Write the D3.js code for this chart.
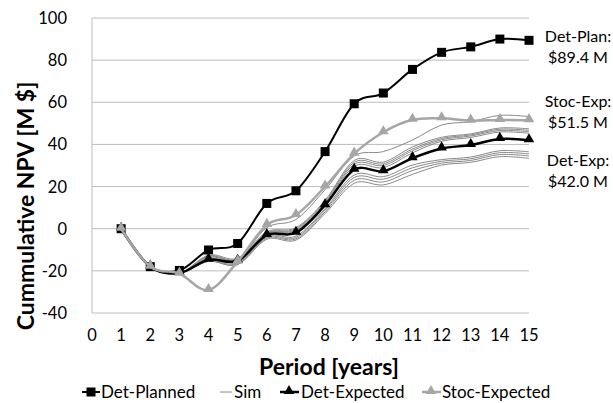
<html>
<head>
<script src="https://cdn.jsdelivr.net/npm/d3@7"></script>
<style>
  body { margin: 0; background: #fff; }
  text { font-family: Lato, "Open Sans", sans-serif; fill: #000; }
</style>
</head>
<body>
<svg id="vis"></svg>
<script>
// periods 1..15
const periods = [1, 2, 3, 4, 5, 6, 7, 8, 9, 10, 11, 12, 13, 14, 15];
const xTicks = [0, 1, 2, 3, 4, 5, 6, 7, 8, 9, 10, 11, 12, 13, 14, 15];
const yTicks = [-40, -20, 0, 20, 40, 60, 80, 100];

const detPlanned = [0, -18, -19.8, -10.1, -7.0, 12.0, 18.0, 36.6, 59.3, 64.4, 75.6, 83.7, 86.3, 90.0, 89.4];
const detExpected = [0, -18, -21, -14.7, -15.2, -3.0, -1.9, 11.2, 28.0, 27.3, 33.5, 38.1, 39.7, 42.6, 42.0];
const stocExpected = [0, -18, -21.3, -29.1, -15.6, 1.8, 6.5, 20.0, 35.6, 45.8, 51.7, 52.4, 51.3, 51.6, 51.5];

// simulation runs (thin gray)
const sim1 = [0, -18, -21, -13.0, -14.5, 0.5, 4.4, 18.5, 34.5, 36.6, 42.1, 49.2, 50.8, 53.8, 53.2];
const sim2 = [0, -18, -21, -12.5, -14.0, -1.5, 0.5, 13.5, 32.4, 31.6, 38.8, 43.4, 45.0, 47.8, 47.4];
const sim3 = [0, -18, -21, -13.0, -14.5, -2.0, 0.0, 13.0, 31.5, 30.8, 37.8, 42.8, 44.5, 47.2, 46.7];
const sim4 = [0, -18, -21, -13.5, -15.0, -2.2, -0.5, 12.5, 30.6, 30.0, 37.0, 42.2, 44.0, 46.6, 46.0];
const sim5 = [0, -18, -21, -14.0, -15.5, -2.5, -1.0, 12.0, 29.6, 29.0, 36.0, 41.5, 43.3, 45.9, 45.3];
const sim6 = [0, -18, -21, -14.5, -16.0, -3.5, -3.5, 9.5, 25.5, 24.7, 30.2, 32.8, 34.0, 37.0, 36.5];
const sim7 = [0, -18, -21, -15.0, -16.5, -4.0, -4.2, 8.8, 24.3, 23.5, 28.9, 32.0, 33.2, 36.1, 35.5];
const sim8 = [0, -18, -21, -15.5, -17.0, -4.5, -4.8, 8.0, 23.0, 22.2, 27.6, 31.1, 32.4, 35.2, 34.5];
const sim9 = [0, -18, -21, -15.5, -17.0, -5.0, -5.4, 7.2, 21.6, 20.8, 25.8, 30.2, 31.5, 34.2, 33.4];
const sims = [sim1, sim2, sim3, sim4, sim5, sim6, sim7, sim8, sim9];

const annotations = [
  ['Det-Plan:', '$89.4 M'],
  ['Stoc-Exp:', '$51.5 M'],
  ['Det-Exp:', '$42.0 M']
];

const width = 613, height = 403;
const svg = d3.select('#vis').attr('width', width).attr('height', height);

const x = d3.scaleLinear().domain([0, 15]).range([92, 529]);
const y = d3.scaleLinear().domain([-40, 100]).range([313, 18]);

// gridlines
svg.append('g').selectAll('line').data(yTicks).enter().append('line')
  .attr('x1', x(0)).attr('x2', x(15))
  .attr('y1', d => y(d)).attr('y2', d => y(d))
  .attr('stroke', '#bdbdbd').attr('stroke-width', 1);
svg.append('line')
  .attr('x1', x(0)).attr('x2', x(0))
  .attr('y1', y(100)).attr('y2', y(-40))
  .attr('stroke', '#bdbdbd');

// tick labels
svg.append('g').selectAll('text').data(yTicks).enter().append('text')
  .attr('x', 67).attr('y', d => y(d) + 6)
  .attr('text-anchor', 'end').style('font-size', '16.5px')
  .text(d => d);
svg.append('g').selectAll('text').data(xTicks).enter().append('text')
  .attr('x', d => x(d)).attr('y', 341)
  .attr('text-anchor', 'middle').style('font-size', '16.5px')
  .text(d => d);

// axis titles
svg.append('text')
  .attr('x', 329).attr('y', 375)
  .attr('text-anchor', 'middle')
  .style('font-size', '23px').style('font-weight', 'bold')
  .text('Period [years]');
svg.append('text')
  .attr('transform', 'translate(34,206) rotate(-90)')
  .attr('text-anchor', 'middle')
  .style('font-size', '23px').style('font-weight', 'bold')
  .text('Cummulative NPV [M $]');

const line = d3.line()
  .x((d, i) => x(periods[i]))
  .y(d => y(d))
  .curve(d3.curveCatmullRom.alpha(0));

const plot = svg.append('g');

function triangle(sel, color) {
  sel.attr('d', d3.symbol().type(d3.symbolTriangle).size(48)).attr('fill', color);
}

// Det-Planned
plot.append('path').datum(detPlanned)
  .attr('d', line).attr('fill', 'none')
  .attr('stroke', '#000').attr('stroke-width', 2);
plot.append('g').selectAll('rect').data(detPlanned).enter().append('rect')
  .attr('x', (d, i) => x(periods[i]) - 4.5).attr('y', d => y(d) - 4.5)
  .attr('width', 9).attr('height', 9).attr('fill', '#000');

// Sims
plot.append('g').selectAll('path').data(sims).enter().append('path')
  .attr('d', line).attr('fill', 'none')
  .attr('stroke', '#8a8a8a').attr('stroke-width', 1);

// Det-Expected
plot.append('path').datum(detExpected)
  .attr('d', line).attr('fill', 'none')
  .attr('stroke', '#000').attr('stroke-width', 2.5);
plot.append('g').selectAll('path').data(detExpected).enter().append('path')
  .attr('transform', (d, i) => `translate(${x(periods[i])},${y(d) - 1})`)
  .call(triangle, '#000');

// Stoc-Expected
plot.append('path').datum(stocExpected)
  .attr('d', line).attr('fill', 'none')
  .attr('stroke', '#a6a6a6').attr('stroke-width', 2.5);
plot.append('g').selectAll('path').data(stocExpected).enter().append('path')
  .attr('transform', (d, i) => `translate(${x(periods[i])},${y(d) - 1})`)
  .call(triangle, '#a6a6a6');

// right-side annotations
const annY = [37, 102, 161];
annotations.forEach((a, i) => {
  const t = svg.append('text').attr('text-anchor', 'middle').style('font-size', '16px');
  t.append('tspan').attr('x', 578).attr('y', annY[i] + 5).text(a[0]);
  t.append('tspan').attr('x', 578).attr('y', annY[i] + 26).text(a[1]);
});

// legend
const ly = 392;
const leg = svg.append('g');
leg.append('line').attr('x1', 82).attr('x2', 100).attr('y1', ly).attr('y2', ly)
  .attr('stroke', '#000').attr('stroke-width', 2);
leg.append('rect').attr('x', 86.5).attr('y', ly - 4.5).attr('width', 9).attr('height', 9).attr('fill', '#000');
leg.append('text').attr('x', 101).attr('y', ly + 6).style('font-size', '17px').text('Det-Planned');

leg.append('line').attr('x1', 220).attr('x2', 232).attr('y1', ly).attr('y2', ly)
  .attr('stroke', '#8a8a8a').attr('stroke-width', 1);
leg.append('text').attr('x', 234).attr('y', ly + 6).style('font-size', '17px').text('Sim');

leg.append('line').attr('x1', 280).attr('x2', 299).attr('y1', ly).attr('y2', ly)
  .attr('stroke', '#000').attr('stroke-width', 2.5);
leg.append('path').attr('transform', `translate(289,${ly - 1})`).call(triangle, '#000');
leg.append('text').attr('x', 301).attr('y', ly + 6).style('font-size', '17px').text('Det-Expected');

leg.append('line').attr('x1', 422).attr('x2', 441).attr('y1', ly).attr('y2', ly)
  .attr('stroke', '#a6a6a6').attr('stroke-width', 2.5);
leg.append('path').attr('transform', `translate(431,${ly - 1})`).call(triangle, '#a6a6a6');
leg.append('text').attr('x', 442).attr('y', ly + 6).style('font-size', '17px').text('Stoc-Expected');
</script>
</body>
</html>
